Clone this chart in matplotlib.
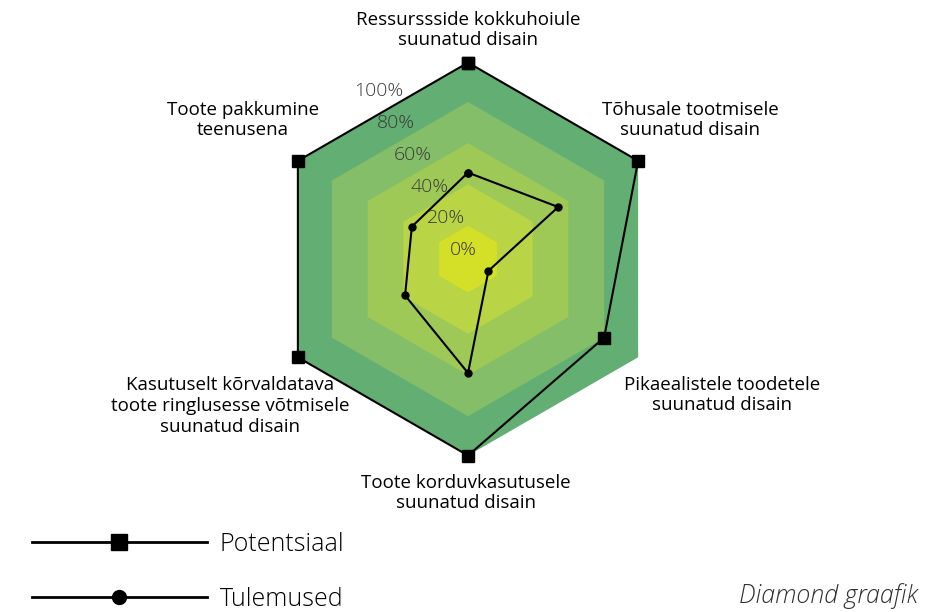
import numpy as np
import matplotlib.pyplot as plt
from matplotlib.lines import Line2D

plt.rcParams["font.family"] = ["Open Sans", "DejaVu Sans"]

categories = [
    "Ressurssside kokkuhoiule\nsuunatud disain",
    "Tõhusale tootmisele\nsuunatud disain",
    "Pikaealistele toodetele\nsuunatud disain",
    "Toote korduvkasutusele\nsuunatud disain",
    "Kasutuselt kõrvaldatava\ntoote ringlusesse võtmisele\nsuunatud disain",
    "Toote pakkumine\nteenusena",
]
potentsiaal = [100, 100, 80, 100, 100, 100]
tulemused = [44, 53, 12, 58, 37, 33]

# background bands (outer to inner)
band_levels = [100, 80, 59, 38, 17]
band_colors = ["#63ae72", "#84be68", "#9fc957", "#b9d545", "#d4e027"]
tick_values = [0, 20, 40, 60, 80, 100]

fig = plt.figure(figsize=(9.47, 6.12), dpi=100)
ax = fig.add_axes([0.2867, 0.2557, 0.415, 0.642], projection="polar")
ax.set_theta_offset(np.pi / 2)
ax.set_theta_direction(-1)

n = len(categories)
angles = np.linspace(0, 2 * np.pi, n, endpoint=False)
closed = np.append(angles, angles[0])

for lvl, col in zip(band_levels, band_colors):
    ax.fill(closed, [lvl] * (n + 1), color=col, lw=0, zorder=1)

ax.plot(closed, potentsiaal + potentsiaal[:1], color="black", lw=1.5,
        marker="s", markersize=8.5, zorder=3, clip_on=False)
ax.plot(closed, tulemused + tulemused[:1], color="black", lw=1.5,
        marker="o", markersize=5, zorder=3, clip_on=False)

# percentage labels along the upper-left apothem
lab_theta = np.deg2rad(-28)
for v in tick_values:
    ax.text(lab_theta, 5 + 0.92 * v, f"{v}%", ha="center", va="center",
            fontsize=14, color="#3a3a3a", fontweight="light", zorder=4)

ax.set_ylim(0, 100)
ax.set_xticks([])
ax.set_yticks([])
ax.grid(False)
ax.spines["polar"].set_visible(False)
ax.patch.set_alpha(0)

# category labels
label_pos = [(468, 30), (690, 120), (722, 395), (466, 493), (230, 406), (243, 120)]
for txt, (px, py) in zip(categories, label_pos):
    fig.text(px / 947, 1 - py / 612, txt, ha="center", va="center",
             fontsize=13.5, color="black", linespacing=1.2)

# legend
h1 = Line2D([], [], color="black", lw=2, marker="s", markersize=11)
h2 = Line2D([], [], color="black", lw=2, marker="o", markersize=10)
fig.legend([h1, h2], ["Potentsiaal", "Tulemused"], loc="lower left",
           bbox_to_anchor=(0.01, -0.036), frameon=False, handlelength=7.0,
           handletextpad=0.5, labelspacing=1.2,
           prop={"size": 18, "weight": "light"})

fig.text(918 / 947, 1 - 596 / 612, "Diamond graafik", ha="right", va="center",
         fontsize=18, style="italic", fontweight="light", color="#303030")

fig.savefig("out.png", dpi=100)
